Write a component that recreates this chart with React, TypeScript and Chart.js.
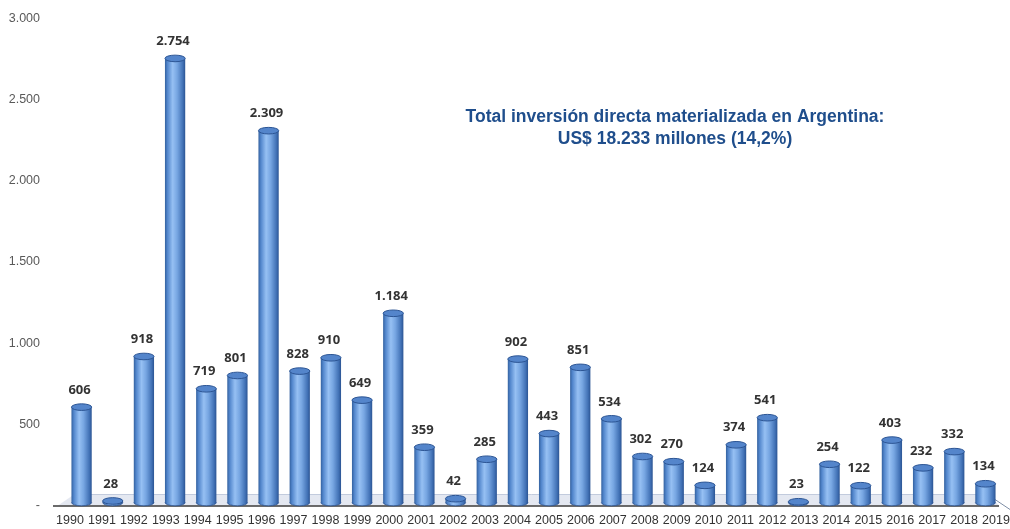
import React, { useEffect, useRef } from "react";
import { Chart, registerables } from "chart.js";

Chart.register(...registerables);

const years: string[] = [
  "1990", "1991", "1992", "1993", "1994", "1995", "1996", "1997", "1998", "1999",
  "2000", "2001", "2002", "2003", "2004", "2005", "2006", "2007", "2008", "2009",
  "2010", "2011", "2012", "2013", "2014", "2015", "2016", "2017", "2018", "2019",
];
const inversion: number[] = [
  606, 28, 918, 2754, 719, 801, 2309, 828, 910, 649,
  1184, 359, 42, 285, 902, 443, 851, 534, 302, 270,
  124, 374, 541, 23, 254, 122, 403, 232, 332, 134,
];
const titleLines: string[] = [
  "Total inversión directa materializada en Argentina:",
  "US$ 18.233 millones (14,2%)",
];

const SHIFT = 15;

const fmt = (v: number): string =>
  v === 0 ? "-" : v.toString().replace(/\B(?=(\d{3})+(?!\d))/g, ".");

const cylinderPlugin = {
  id: "cylinder",
  beforeDatasetsDraw(chart: any) {
    const { ctx, chartArea, scales } = chart;
    const y0 = scales.y.getPixelForValue(0);
    ctx.save();
    ctx.fillStyle = "rgba(205,214,230,0.55)";
    ctx.beginPath();
    ctx.moveTo(chartArea.left - 8, y0);
    ctx.lineTo(chartArea.left + 8, y0 - 11);
    ctx.lineTo(chartArea.right - 12, y0 - 11);
    ctx.lineTo(chartArea.right - 2, y0);
    ctx.closePath();
    ctx.fill();
    ctx.strokeStyle = "rgba(190,200,218,0.9)";
    ctx.lineWidth = 1;
    ctx.beginPath();
    ctx.moveTo(chartArea.left + 8, y0 - 11);
    ctx.lineTo(chartArea.right - 12, y0 - 11);
    ctx.stroke();
    ctx.strokeStyle = "#3a3a3a";
    ctx.lineWidth = 1.5;
    ctx.beginPath();
    ctx.moveTo(chartArea.left - 13, y0 + 0.5);
    ctx.lineTo(chartArea.right - 2, y0 + 0.5);
    ctx.stroke();
    ctx.strokeStyle = "#7f8fa6";
    ctx.lineWidth = 1;
    ctx.beginPath();
    ctx.moveTo(chartArea.right - 12, y0 - 10);
    ctx.lineTo(chartArea.right + 9, y0 + 4);
    ctx.stroke();
    ctx.restore();
  },
  afterDatasetsDraw(chart: any) {
    const { ctx } = chart;
    const meta = chart.getDatasetMeta(0);
    ctx.save();
    meta.data.forEach((bar: any, i: number) => {
      const w = bar.width;
      const left = bar.x - w / 2;
      const top = bar.y;
      const base = bar.base - 3;
      const ry = 3.3;
      const g = ctx.createLinearGradient(left, 0, left + w, 0);
      g.addColorStop(0, "#33619f");
      g.addColorStop(0.12, "#5286cc");
      g.addColorStop(0.38, "#96c0f3");
      g.addColorStop(0.6, "#77a6e2");
      g.addColorStop(0.88, "#4272b6");
      g.addColorStop(1, "#2b5493");
      ctx.fillStyle = g;
      ctx.beginPath();
      ctx.moveTo(left, Math.min(top, base));
      ctx.lineTo(left, base);
      ctx.ellipse(bar.x, base, w / 2, ry, 0, Math.PI, 0, true);
      ctx.lineTo(left + w, Math.min(top, base));
      ctx.closePath();
      ctx.fill();
      ctx.strokeStyle = "#2a5290";
      ctx.lineWidth = 0.8;
      ctx.beginPath();
      ctx.ellipse(bar.x, base, w / 2, ry, 0, 0, Math.PI);
      ctx.stroke();
      const ty = Math.min(top, base);
      ctx.fillStyle = "#5485cb";
      ctx.beginPath();
      ctx.ellipse(bar.x, ty, w / 2, ry, 0, 0, Math.PI * 2);
      ctx.fill();
      ctx.strokeStyle = "#2c5594";
      ctx.lineWidth = 1;
      ctx.stroke();
      ctx.fillStyle = "#333333";
      ctx.font = "bold 13px 'Open Sans', sans-serif";
      ctx.textAlign = "center";
      ctx.textBaseline = "middle";
      ctx.fillText(fmt(inversion[i]), bar.x - 2, ty - 17);
    });
    ctx.fillStyle = "#1f4e8c";
    ctx.font = "bold 17.5px 'Liberation Sans', Arial, sans-serif";
    ctx.textAlign = "center";
    ctx.textBaseline = "middle";
    const cx = 675;
    ctx.fillText(titleLines[0], cx, 117 + SHIFT);
    ctx.fillText(titleLines[1], cx, 139 + SHIFT);
    ctx.restore();
  },
};

export default function App() {
  const ref = useRef<HTMLCanvasElement | null>(null);
  useEffect(() => {
    document.body.style.margin = "0";
    document.body.style.overflow = "hidden";
    if (!ref.current) return;
    const chart = new Chart(ref.current, {
      type: "bar",
      data: {
        labels: years,
        datasets: [
          {
            data: inversion,
            backgroundColor: "rgba(0,0,0,0)",
            borderWidth: 0,
            categoryPercentage: 1,
            barPercentage: 0.65,
            xAxisID: "x",
          },
        ],
      },
      options: {
        animation: false,
        responsive: false,
        maintainAspectRatio: false,
        layout: { padding: { left: 0, right: 9, top: 0, bottom: 0 } },
        plugins: { legend: { display: false }, tooltip: { enabled: false }, title: { display: false } },
        scales: {
          x: {
            display: false,
          },
          xl: {
            type: "linear",
            position: "bottom",
            offset: false,
            min: -0.125,
            max: 29.156,
            grid: { display: false, drawTicks: false, offset: false },
            border: { display: false },
            afterBuildTicks: (s: any) => {
              s.ticks = years.map((_, i) => ({ value: i }));
            },
            ticks: {
              color: "#333333",
              padding: 8,
              font: { family: "'Liberation Sans', Arial, sans-serif", size: 12.5 },
              maxRotation: 0,
              autoSkip: false,
              callback: (v: any) => years[Math.round(Number(v))] ?? "",
            },
            afterFit: (s: any) => {
              s.height = 24;
              s.paddingLeft = 0;
              s.paddingRight = 0;
            },
          },
          y: {
            min: 0,
            max: 3000,
            grid: { display: false, drawTicks: false },
            border: { display: false },
            ticks: {
              stepSize: 500,
              color: "#595959",
              padding: 26,
              font: { family: "'Liberation Sans', Arial, sans-serif", size: 12.5 },
              callback: (v: any) => fmt(Number(v)),
            },
            afterFit: (s: any) => { s.width = 66; },
          },
        },
      },
      plugins: [cylinderPlugin],
    });
    return () => chart.destroy();
  }, []);
  return (
    <div style={{ width: 1010, height: 529, overflow: "hidden" }}>
      <canvas
        ref={ref}
        width={1010}
        height={554}
        style={{ width: 1010, height: 554, display: "block", marginTop: -SHIFT }}
      />
    </div>
  );
}
